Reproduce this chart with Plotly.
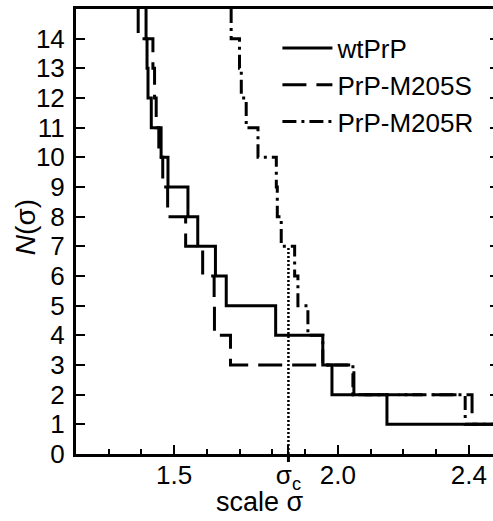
import plotly.graph_objects as go

# step curves: sigma where each level N starts, level N
wt_sigma = [1.414, 1.414, 1.417, 1.420, 1.430, 1.460, 1.481, 1.542, 1.572, 1.626, 1.659, 1.810, 1.954, 1.982, 2.150, 2.5]
wt_N = [15, 14, 13, 12, 11, 10, 9, 8, 7, 6, 5, 4, 3, 2, 1, 1]

m205s_sigma = [1.390, 1.390, 1.435, 1.440, 1.445, 1.453, 1.465, 1.480, 1.535, 1.587, 1.622, 1.623, 1.672, 2.049, 2.410, 2.5]
m205s_N = [15, 14, 13, 12, 11, 10, 9, 8, 7, 6, 5, 4, 3, 2, 1, 1]

m205r_sigma = [1.674, 1.674, 1.6995, 1.705, 1.720, 1.756, 1.812, 1.815, 1.827, 1.868, 1.878, 1.9085, 1.954, 2.046, 2.389, 2.5]
m205r_N = [15, 14, 13, 12, 11, 10, 9, 8, 7, 6, 5, 4, 3, 2, 1, 1]

sigma_c = 1.849
N_c = 7

x_tickvals = [1.5, sigma_c, 2.0, 2.4]
x_ticktext = ["1.5", "σ<sub>c</sub>", "2.0", "2.4"]
y_tickvals = list(range(0, 15))

FONT = "Liberation Sans, Arial, sans-serif"

fig = go.Figure()
fig.add_trace(go.Scatter(
    x=wt_sigma, y=wt_N, name="wtPrP", mode="lines", legendgroup="a",
    line=dict(color="black", width=3, shape="hv")
))
fig.add_trace(go.Scatter(
    x=m205s_sigma, y=m205s_N, name="PrP-M205S", mode="lines", legendgroup="b",
    line=dict(color="black", width=3, shape="hv", dash="24px,10px")
))
fig.add_trace(go.Scatter(
    x=m205r_sigma, y=m205r_N, name="PrP-M205R", mode="lines", legendgroup="c",
    line=dict(color="black", width=3, shape="hv", dash="14px,5px,3px,5px")
))
fig.add_trace(go.Scatter(
    x=[sigma_c, sigma_c], y=[0, N_c], mode="lines", showlegend=False, yaxis="y2",
    line=dict(color="black", width=2.5, dash="2px,2px")
))

# tick of sigma_c sticking out below the axis
fig.add_shape(type="line", x0=sigma_c, x1=sigma_c, xref="x", yref="paper",
              y0=0, y1=-0.018, line=dict(color="black", width=3))

# axis titles as annotations (x title sits left of the plot centre in the original)
fig.add_annotation(text="scale σ", xref="paper", yref="paper", x=0.441, y=-0.07,
                   xanchor="center", yanchor="top", showarrow=False,
                   font=dict(size=27, color="black", family=FONT))
fig.add_annotation(text="<i>N</i>(σ)", xref="paper", yref="paper", x=-0.122, y=0.51,
                   xanchor="center", yanchor="middle", textangle=-90, showarrow=False,
                   font=dict(size=28, color="black", family=FONT))

fig.update_layout(
    width=493, height=521,
    margin=dict(l=76, r=0, t=9, b=67),
    paper_bgcolor="white", plot_bgcolor="white",
    font=dict(family=FONT, color="black", size=26),
    xaxis=dict(
        range=[1.2, 2.474], showgrid=False, zeroline=False, automargin=False,
        showline=True, linecolor="black", linewidth=3, mirror=True,
        ticks="inside", ticklen=9, tickwidth=2, tickcolor="black",
        tickvals=x_tickvals, ticktext=x_ticktext,
        tickfont=dict(size=26), ticklabelstandoff=-4,
        minor=dict(ticks="inside", ticklen=5, tickwidth=2, tickcolor="black", dtick=0.1, tick0=1.0),
    ),
    yaxis=dict(
        range=[0, 15], showgrid=False, zeroline=False, automargin=False,
        showline=True, linecolor="black", linewidth=3, mirror=True,
        ticks="inside", ticklen=9, tickwidth=2, tickcolor="black",
        tickvals=y_tickvals, tickfont=dict(size=26), ticklabelstandoff=3,
    ),
    yaxis2=dict(
        range=[0, 15], overlaying="y", side="right", showgrid=False, zeroline=False,
        showline=False, ticks="inside", ticklen=3, tickwidth=2, tickcolor="black",
        tickvals=y_tickvals, showticklabels=False, automargin=False,
    ),
    legend=dict(x=0.483, y=0.965, xanchor="left", yanchor="top",
                bgcolor="rgba(0,0,0,0)", font=dict(size=26),
                itemwidth=50, tracegroupgap=0),
    showlegend=True,
)

# drop the browser's default 8px body margin so the figure sits at the page corner
fig.write_html("out.html", config={"displayModeBar": False},
               post_script="document.body.style.margin='0';")
